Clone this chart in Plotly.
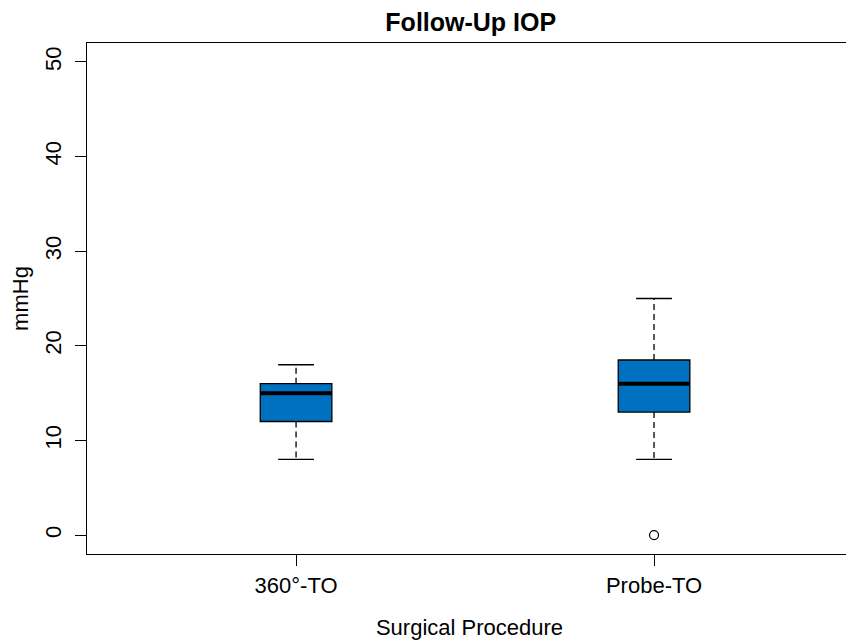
import plotly.graph_objects as go

categories = ["360°-TO", "Probe-TO"]
positions = [1, 2]
lower_whisker = [8, 8]
q1 = [12, 13]
median = [15, 16]
q3 = [16, 18.5]
upper_whisker = [18, 25]
outliers = [[], [0]]

y_ticks = [0, 10, 20, 30, 40, 50]

BOX_FILL = "#0070C0"
BOX_W = 0.2
CAP_W = 0.1
FONT = "Liberation Sans, Arial, sans-serif"

fig = go.Figure()

for i, pos in enumerate(positions):
    # dashed whiskers
    fig.add_trace(go.Scatter(x=[pos, pos], y=[q3[i], upper_whisker[i]], mode="lines",
                             line=dict(color="black", width=1.3, dash="6px,4px"),
                             showlegend=False, hoverinfo="skip"))
    fig.add_trace(go.Scatter(x=[pos, pos], y=[q1[i], lower_whisker[i]], mode="lines",
                             line=dict(color="black", width=1.3, dash="6px,4px"),
                             showlegend=False, hoverinfo="skip"))
    # caps
    for v in (upper_whisker[i], lower_whisker[i]):
        fig.add_trace(go.Scatter(x=[pos - CAP_W / 2, pos + CAP_W / 2], y=[v, v], mode="lines",
                                 line=dict(color="black", width=1.3),
                                 showlegend=False, hoverinfo="skip"))
    # box body
    fig.add_trace(go.Box(x=[pos], q1=[q1[i]], median=[median[i]], q3=[q3[i]],
                         lowerfence=[q1[i]], upperfence=[q3[i]],
                         width=BOX_W, fillcolor=BOX_FILL,
                         line=dict(color="black", width=1.3),
                         boxpoints=False, showlegend=False, name=categories[i]))
    # thick median
    fig.add_trace(go.Scatter(x=[pos - BOX_W / 2, pos + BOX_W / 2], y=[median[i], median[i]],
                             mode="lines", line=dict(color="black", width=4),
                             showlegend=False, hoverinfo="skip"))
    # outliers
    if outliers[i]:
        fig.add_trace(go.Scatter(x=[pos] * len(outliers[i]), y=outliers[i], mode="markers",
                                 marker=dict(symbol="circle-open", size=9, color="black",
                                             line=dict(width=1.2)),
                                 showlegend=False))

# page body has an 8px margin: size the figure so it fits the 854x642 window
fig.update_layout(
    width=846, height=634,
    margin=dict(l=79, r=2, t=35, b=88, autoexpand=False),
    paper_bgcolor="white", plot_bgcolor="white",
    font=dict(family=FONT, color="black"),
    title=dict(text="<b>Follow-Up IOP</b>", x=0.547, xanchor="center", y=0.977, yanchor="middle",
               font=dict(size=25, family=FONT, color="black")),
)

fig.update_xaxes(
    range=[0.416, 2.553], tickvals=positions, ticktext=categories, automargin=False,
    showgrid=False, zeroline=False, showline=True, linecolor="black", linewidth=1.3,
    mirror=True, ticks="outside", ticklen=11, tickwidth=1.3, tickcolor="black",
    tickfont=dict(size=22), ticklabelstandoff=0,
    title=dict(text="Surgical Procedure", font=dict(size=22), standoff=23),
)
fig.update_yaxes(
    range=[-2, 52], tickvals=y_ticks, ticktext=[str(v) for v in y_ticks], automargin=False,
    showgrid=False, zeroline=False, showline=True, linecolor="black", linewidth=1.3,
    mirror=True, ticks="outside", ticklen=11, tickwidth=1.3, tickcolor="black",
    tickangle=-90, tickfont=dict(size=22), ticklabelstandoff=5,
    title=dict(text="mmHg", font=dict(size=22), standoff=9),
)

fig.write_html("out.html")
